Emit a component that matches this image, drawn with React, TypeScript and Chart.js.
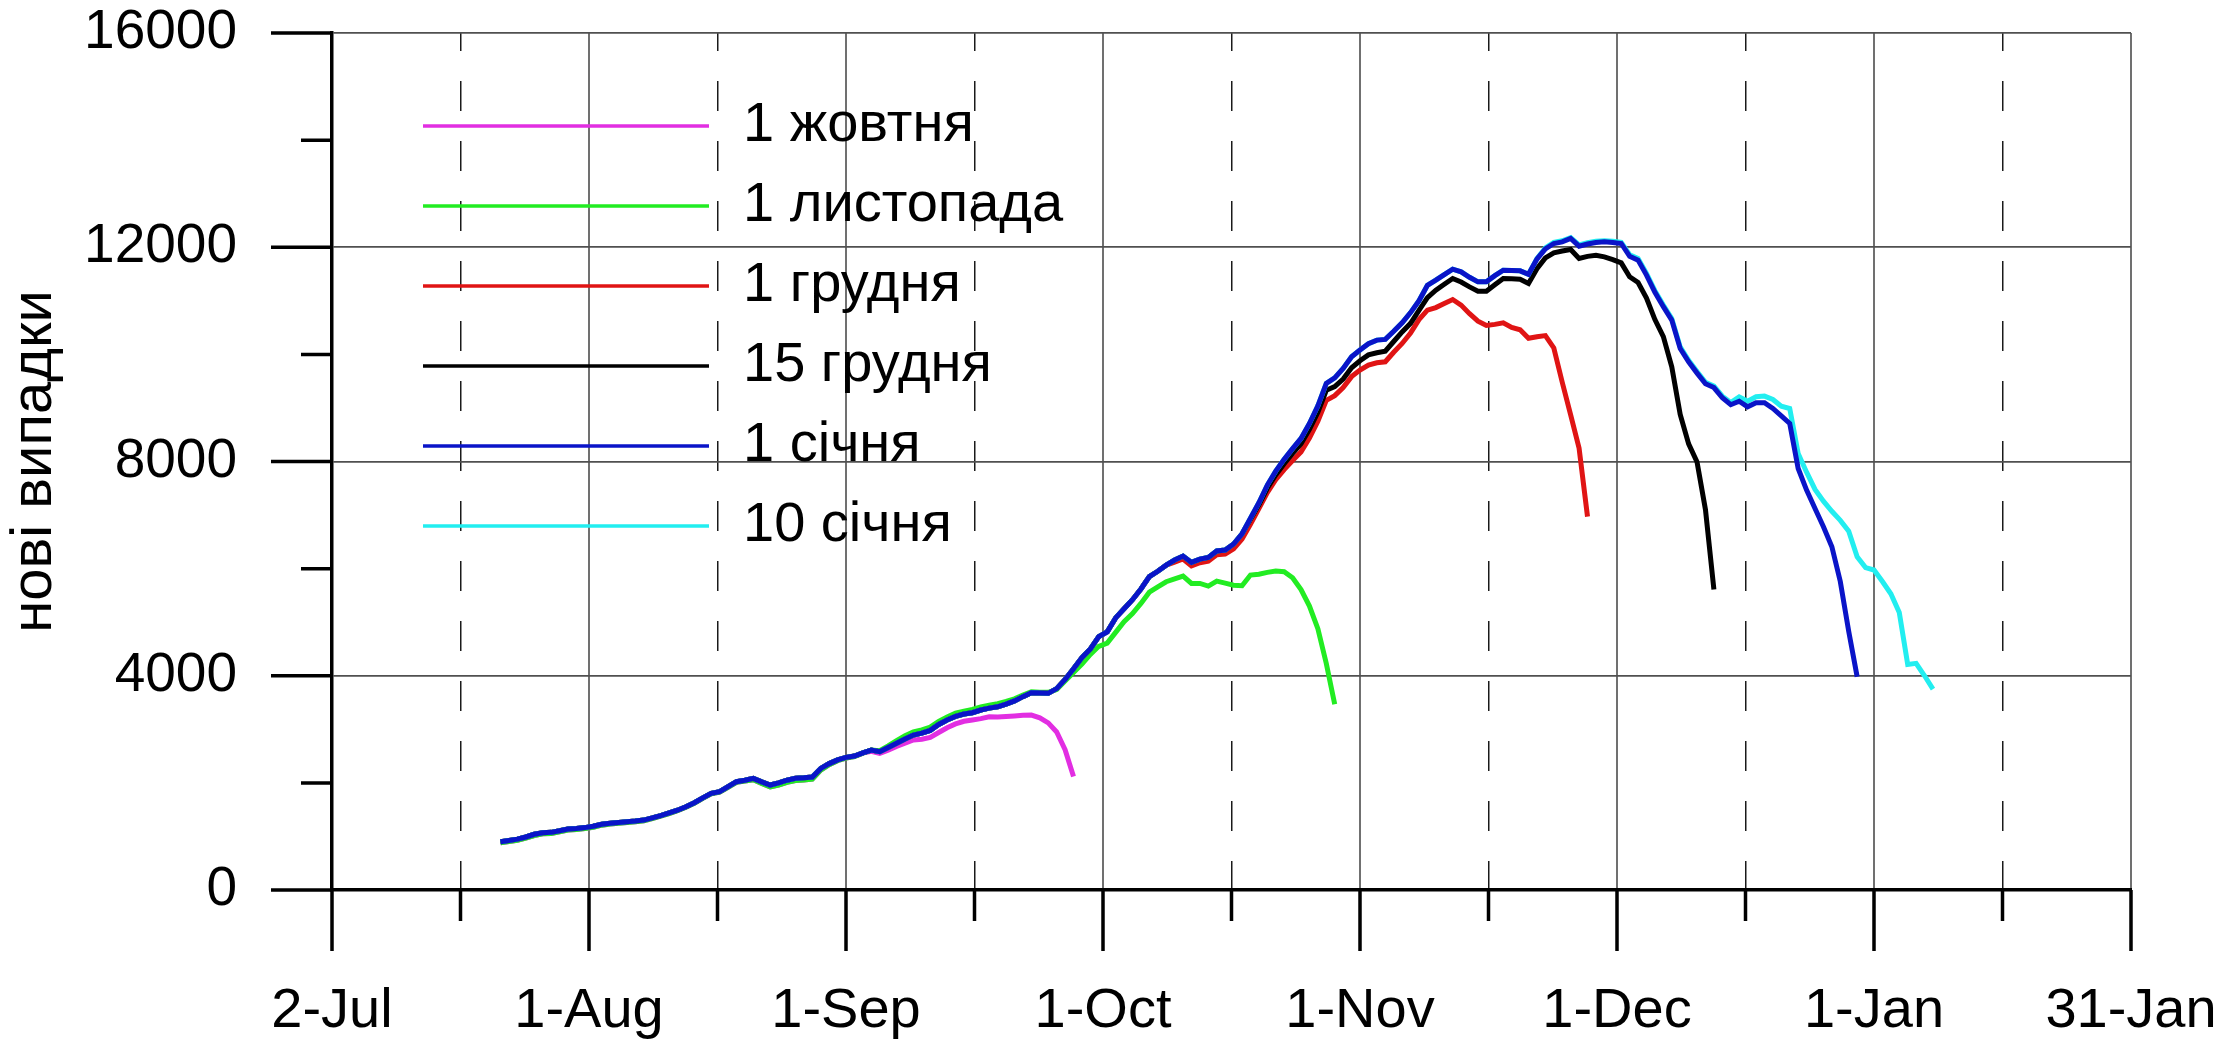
import { useEffect, useRef } from "react";
import { Chart, registerables } from "chart.js";

Chart.register(...registerables);

const FONT = "'Liberation Sans', Arial, sans-serif";

// x is counted in days from 2 July; every series starts on 22 July (day 20)
const FIRST_DAY = 20;
const X_MAX = 213.5;
const TICK_STEP = 15.25;
const tickLabels = ["2-Jul", "1-Aug", "1-Sep", "1-Oct", "1-Nov", "1-Dec", "1-Jan", "31-Jan"];

const seriesNames = ["1 жовтня", "1 листопада", "1 грудня", "15 грудня", "1 січня", "10 січня"];
const seriesColors = ["#e22ee2", "#22ec22", "#e01414", "#000000", "#0a14c8", "#22eef0"];

// days 20..99, identical in the later curves
const sharedStart = [
  900, 925, 950, 990, 1040, 1070, 1076, 1105, 1139, 1148,
  1165, 1190, 1228, 1248, 1262, 1275, 1288, 1305, 1345, 1390,
  1440, 1490, 1555, 1630, 1720, 1805, 1835, 1930, 2022, 2050,
  2085, 2020, 1960, 2000, 2050, 2085, 2095, 2110, 2270, 2360,
  2430, 2476, 2501, 2560, 2613, 2582, 2660, 2740, 2820, 2893,
  2930, 2980, 3090, 3175, 3240, 3285, 3310, 3360, 3395, 3420,
  3470, 3530, 3610, 3683, 3676, 3672, 3760, 3930, 4130, 4340,
  4500, 4730, 4820, 5080, 5250, 5420, 5620, 5850, 5950, 6065,
];

// days 20..119
const greenValues = [
  880, 905, 930, 968, 1015, 1048, 1055, 1085, 1118, 1128,
  1146, 1172, 1210, 1232, 1246, 1260, 1274, 1292, 1332, 1378,
  1428, 1480, 1545, 1620, 1710, 1795, 1825, 1918, 2010, 2035,
  2060, 1990, 1925, 1960, 2010, 2045, 2055, 2070, 2240, 2340,
  2415, 2462, 2490, 2555, 2615, 2600, 2690, 2790, 2880, 2950,
  2990, 3040, 3150, 3230, 3300, 3340, 3370, 3420, 3450, 3480,
  3520, 3570, 3640, 3700, 3690, 3690, 3740, 3900, 4060, 4220,
  4400, 4550, 4610, 4810, 5010, 5160, 5350, 5560, 5660, 5755,
  5810, 5861, 5724, 5724, 5674, 5768, 5730, 5690, 5680, 5880,
  5895, 5930, 5954, 5942, 5830, 5610, 5300, 4880, 4230, 3470,
];

// days 64..88
const magentaTail = [
  2590, 2550, 2610, 2680, 2740, 2800, 2815, 2850, 2940, 3030,
  3100, 3150, 3175, 3200, 3235, 3230, 3240, 3250, 3262, 3266,
  3215, 3120, 2950, 2620, 2120,
];

// days 100..149
const redTail = [
  6120, 6180, 6050, 6110, 6140, 6260, 6270, 6370, 6550, 6830,
  7120, 7420, 7660, 7850, 8020, 8180, 8440, 8750, 9140, 9230,
  9380, 9585, 9706, 9800, 9843, 9862, 10040, 10204, 10400, 10650,
  10826, 10874, 10950, 11024, 10920, 10760, 10620, 10539, 10560, 10588,
  10502, 10460, 10300, 10330, 10350, 10120, 9480, 8870, 8250, 6970,
];

// days 100..164
const blackTail = [
  6160, 6234, 6116, 6178, 6209, 6330, 6346, 6460, 6650, 6920,
  7190, 7500, 7750, 7960, 8150, 8330, 8600, 8920, 9330, 9400,
  9540, 9750, 9880, 9990, 10030, 10060, 10240, 10420, 10580, 10820,
  11060, 11199, 11310, 11417, 11350, 11260, 11180, 11180, 11300, 11417,
  11410, 11404, 11325, 11600, 11800, 11896, 11930, 11958, 11790, 11830,
  11852, 11820, 11770, 11709, 11448, 11342, 11050, 10650, 10330, 9768,
  8880, 8330, 7990, 7100, 5610,
];

// days 100..181
const blueTail = [
  6160, 6234, 6116, 6178, 6209, 6330, 6346, 6460, 6650, 6940,
  7230, 7560, 7820, 8040, 8240, 8430, 8710, 9040, 9457, 9560,
  9737, 9954, 10080, 10200, 10266, 10280, 10430, 10590, 10780, 11000,
  11290, 11386, 11490, 11591, 11540, 11440, 11354, 11354, 11470, 11572,
  11566, 11560, 11495, 11780, 11970, 12070, 12100, 12163, 12020, 12060,
  12090, 12101, 12090, 12070, 11830, 11760, 11480, 11160, 10890, 10640,
  10110, 9860, 9650, 9450, 9380, 9190, 9060, 9125, 9020, 9096,
  9096, 8990, 8850, 8710, 7870, 7466, 7124, 6782, 6409, 5760,
  4830, 3980,
];

// days 100..190
const cyanTail = [
  6160, 6234, 6116, 6178, 6209, 6330, 6346, 6460, 6650, 6940,
  7230, 7560, 7820, 8040, 8240, 8430, 8710, 9040, 9457, 9560,
  9737, 9954, 10080, 10200, 10266, 10280, 10430, 10590, 10780, 11000,
  11290, 11386, 11490, 11591, 11540, 11440, 11354, 11354, 11470, 11572,
  11566, 11560, 11495, 11790, 11990, 12090, 12120, 12180, 12045, 12085,
  12110, 12120, 12110, 12090, 11860, 11790, 11510, 11190, 10920, 10670,
  10140, 9890, 9680, 9480, 9410, 9220, 9100, 9208, 9127, 9208,
  9221, 9159, 9034, 8990, 8150, 7800, 7480, 7260, 7070, 6900,
  6700, 6220, 6020, 5974, 5760, 5530, 5180, 4212, 4231, 4000,
  3750,
];

const seriesValues = [
  greenValues.slice(0, 44).concat(magentaTail),
  greenValues,
  sharedStart.concat(redTail),
  sharedStart.concat(blackTail),
  sharedStart.concat(blueTail),
  sharedStart.concat(cyanTail),
];
// blue on top, then cyan, black, red, green, magenta
const drawOrder = [5, 4, 3, 2, 0, 1];

const xTickValues = Array.from({ length: 15 }, (_, k) => k * TICK_STEP);
const yTickValues = Array.from({ length: 9 }, (_, k) => k * 2000);

const axisTicks = {
  id: "axisTicks",
  afterDraw(chart: Chart) {
    const { ctx, chartArea } = chart;
    const x = chart.scales.x;
    const y = chart.scales.y;
    ctx.save();
    ctx.strokeStyle = "#000";
    ctx.lineWidth = 3.5;
    ctx.beginPath();
    x.ticks.forEach((t, i) => {
      const px = x.getPixelForValue(t.value);
      ctx.moveTo(px, chartArea.bottom);
      ctx.lineTo(px, chartArea.bottom + (i % 2 === 0 ? 61 : 31));
    });
    y.ticks.forEach((t) => {
      const py = y.getPixelForValue(t.value);
      ctx.moveTo(chartArea.left - (t.value % 4000 === 0 ? 61 : 31), py);
      ctx.lineTo(chartArea.left, py);
    });
    ctx.stroke();
    ctx.restore();
  },
};

const lineLegend = {
  id: "lineLegend",
  afterDraw(chart: Chart) {
    const { ctx, chartArea } = chart;
    ctx.save();
    ctx.font = `56px ${FONT}`;
    ctx.textBaseline = "middle";
    ctx.fillStyle = "#000";
    chart.data.datasets.forEach((ds, i) => {
      const yy = chartArea.top + 93 + i * 80;
      ctx.strokeStyle = ds.borderColor as string;
      ctx.lineWidth = 3.5;
      ctx.beginPath();
      ctx.moveTo(chartArea.left + 91, yy);
      ctx.lineTo(chartArea.left + 377, yy);
      ctx.stroke();
      ctx.fillText(ds.label as string, chartArea.left + 411, yy);
    });
    ctx.restore();
  },
};

function CasesChart() {
  const canvasRef = useRef<HTMLCanvasElement>(null);
  const chartRef = useRef<Chart | null>(null);

  useEffect(() => {
    if (!canvasRef.current) return;

    chartRef.current = new Chart(canvasRef.current, {
      type: "line",
      data: {
        datasets: seriesNames.map((name, i) => ({
          label: name,
          data: seriesValues[i].map((v, k) => ({ x: FIRST_DAY + k, y: v })),
          borderColor: seriesColors[i],
          backgroundColor: seriesColors[i],
          borderWidth: 5,
          pointRadius: 0,
          tension: 0,
          fill: false,
          order: drawOrder[i],
        })),
      },
      options: {
        animation: false,
        responsive: false,
        maintainAspectRatio: false,
        devicePixelRatio: 1,
        layout: { padding: { top: 33, right: 90, left: 0, bottom: 0 } },
        plugins: {
          legend: { display: false },
          tooltip: { enabled: false },
        },
        scales: {
          x: {
            type: "linear",
            min: 0,
            max: X_MAX,
            afterBuildTicks: (scale) => {
              scale.ticks = xTickValues.map((v) => ({ value: v }));
            },
            afterFit: (scale) => {
              scale.height = 156;
            },
            ticks: {
              autoSkip: false,
              maxRotation: 0,
              minRotation: 0,
              padding: 0,
              color: "#000",
              font: { family: FONT, size: 56 },
              callback: (_v, i) => (i % 2 === 0 ? tickLabels[i / 2] : ""),
            },
            grid: {
              drawTicks: true,
              tickLength: 88,
              tickColor: "rgba(0,0,0,0)",
              color: (c) => (c.index % 2 === 0 ? "#707070" : "#1a1a1a"),
              lineWidth: (c) => (c.index % 2 === 0 ? 2 : 1.5),
            },
            border: {
              display: true,
              color: "#000",
              width: 3.5,
              dash: (c) => (c.tick && c.index % 2 === 1 ? [30, 30] : []),
              dashOffset: 12,
            },
          },
          y: {
            min: 0,
            max: 16000,
            afterBuildTicks: (scale) => {
              scale.ticks = yTickValues.map((v) => ({ value: v }));
            },
            afterFit: (scale) => {
              scale.width = 332;
            },
            ticks: {
              padding: 0,
              color: "#000",
              font: { family: FONT, size: 55, lineHeight: 1 },
              callback: (v) => (Number(v) % 4000 === 0 ? String(v) : ""),
            },
            grid: {
              drawTicks: true,
              tickLength: 95,
              tickColor: "rgba(0,0,0,0)",
              color: (c) => {
                const v = c.tick ? c.tick.value : 0;
                return v % 4000 === 0 && v > 0 ? "#505050" : "rgba(0,0,0,0)";
              },
              lineWidth: 1.8,
            },
            border: { display: true, color: "#000", width: 3.5 },
            title: {
              display: true,
              text: "нові випадки",
              color: "#000",
              font: { family: FONT, size: 58 },
              padding: { top: 0, bottom: 0 },
            },
          },
        },
      },
      plugins: [axisTicks, lineLegend],
    });

    return () => chartRef.current?.destroy();
  }, []);

  return <canvas ref={canvasRef} width={2221} height={1046} style={{ display: "block" }} />;
}

export default function App() {
  useEffect(() => {
    document.body.style.margin = "0";
    document.body.style.background = "#fff";
  }, []);
  return <CasesChart />;
}
